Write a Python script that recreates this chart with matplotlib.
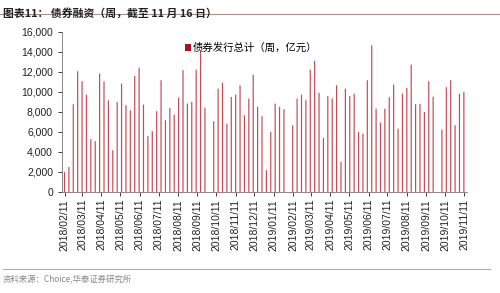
import numpy as np
import pandas as pd
import matplotlib
matplotlib.use("Agg")
import matplotlib.pyplot as plt
import matplotlib.dates as mdates
from matplotlib.ticker import FuncFormatter

plt.rcParams['font.family'] = ['Liberation Sans', 'Noto Sans CJK SC', 'DejaVu Sans']

start_date = "2018-02-11"
values = [2000, 2500, 8770, 12070, 11070, 9730, 5270, 5070, 11830, 11070,
          9170, 4170, 9000, 10830, 8670, 8170, 11600, 12430, 8730, 5570,
          6070, 8070, 11170, 7170, 8400, 7730, 9430, 12170, 8830, 9000,
          12230, 14100, 8430, np.nan, 7070, 10330, 10930, 6830, 9500, 9730,
          10670, 7670, 9330, 11730, 8500, 7570, 2170, 6000, 8830, 8500,
          8270, np.nan, 6670, 9330, 9730, 9170, 12230, 13100, 9900, 5400,
          9570, 9330, 10670, 3000, 10330, 9600, 9830, 6000, 5830, 11170,
          14670, 8330, 6930, 8330, 9470, 10730, 6330, 9830, 10400, 12730,
          8770, 8800, 8000, 11070, 9530, np.nan, 6230, 10470, 11170, 6670,
          9830, 10000]
dates = pd.date_range(start_date, periods=len(values), freq="7D")
tick_dates = pd.date_range("2018-02-01", "2019-11-01", freq="MS") + pd.Timedelta(days=10)
y_ticks = [0, 2000, 4000, 6000, 8000, 10000, 12000, 14000, 16000]
series_name = "债券发行总计（周，亿元）"
title = "图表11： 债券融资（周，截至 11 月 16 日）"
source = "资料来源：Choice,华泰证券研究所"

fig = plt.figure(figsize=(5.0, 2.93), dpi=100)
ax = fig.add_axes([0.124, 0.345, 0.81, 0.546])

bar_color = "#c44a55"
vals = np.array(values, dtype=float)
mask = ~np.isnan(vals)
bars = ax.bar(dates[mask], vals[mask], width=1.9, color=bar_color, label=series_name,
              linewidth=0)
for b in bars:
    b.set_snap(False)

ax.set_ylim(0, 16000)
ax.set_yticks(y_ticks)
ax.yaxis.set_major_formatter(FuncFormatter(lambda v, p: f"{int(v):,}"))
ax.set_xlim(pd.Timestamp("2018-02-07"), pd.Timestamp("2019-11-15"))
ax.set_xticks(tick_dates)
ax.xaxis.set_major_formatter(mdates.DateFormatter("%Y/%m/%d"))
for lab in ax.get_xticklabels():
    lab.set_rotation(90)

ax.tick_params(axis='both', labelsize=7.5, colors="#222222", length=3, width=0.6)
ax.tick_params(axis='x', pad=2)
for s in ['top', 'right']:
    ax.spines[s].set_visible(False)
for s in ['left', 'bottom']:
    ax.spines[s].set_color("#888888")
    ax.spines[s].set_linewidth(0.7)

leg = ax.legend(loc='upper left', bbox_to_anchor=(0.28, 0.99), frameon=False,
                prop={'family': ['Noto Sans CJK SC'], 'size': 7.5},
                handlelength=0.6, handleheight=0.6, handletextpad=0.2)
for h in leg.legend_handles:
    h.set_color("#b0101c")

fig.text(0.006, 0.972, title, fontsize=7.8, fontweight='bold',
         family=['Noto Sans CJK SC'], va='top', ha='left', color="#222222")
fig.add_artist(plt.Line2D([0.0, 1.0], [0.952, 0.952], color="#a89090", linewidth=0.8))
fig.add_artist(plt.Line2D([0.006, 0.98], [0.082, 0.082], color="#d0a0a0", linewidth=0.8))
fig.text(0.006, 0.045, source, fontsize=6, family=['Noto Sans CJK SC'],
         va='center', ha='left', color="#888888")

fig.savefig("out.png", dpi=100)
